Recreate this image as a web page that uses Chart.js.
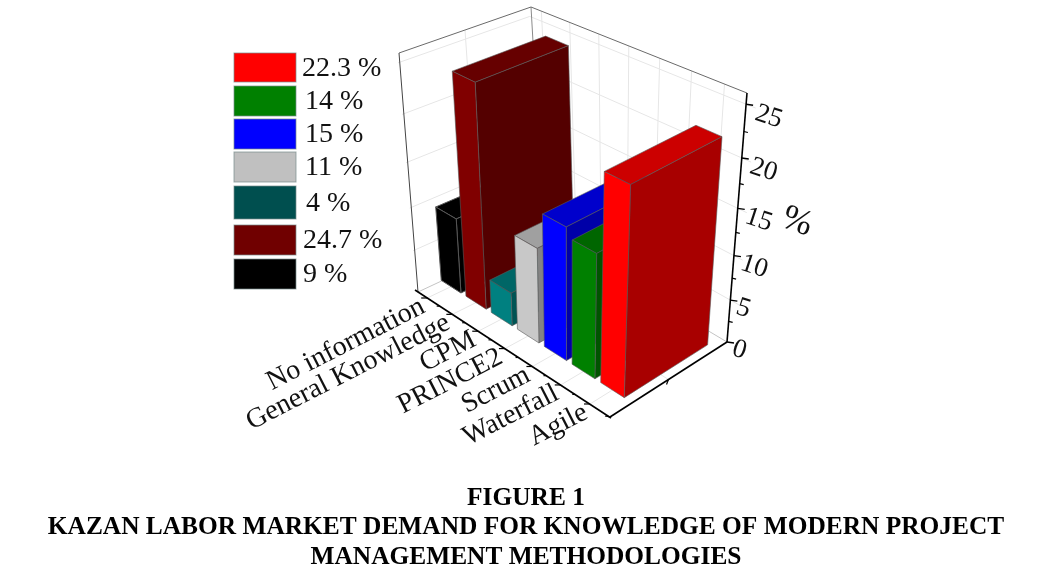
<!DOCTYPE html>
<html>
<head>
<meta charset="utf-8">
<style>html,body{margin:0;padding:0;background:#fff}canvas{display:block}</style>
<script src="https://cdn.jsdelivr.net/npm/chart.js@4"></script>
</head>
<body>
<canvas id="c" width="1047" height="573"></canvas>
<script>
const categories = ["No information","General Knowledge","CPM","PRINCE2","Scrum","Waterfall","Agile"];
const values = [9, 24.7, 4, 11, 15, 14, 22.3];
const barColors = ["#000000","#800000","#008080","#c8c8c8","#0000ff","#008000","#ff0000"];
const legendLabels = ["22.3 %","14 %","15 %","11 %","4 %","24.7 %","9 %"];
const legendColors = ["#ff0000","#008000","#0000ff","#c0c0c0","#004f4f","#700000","#000000"];
const captionLines = ["FIGURE 1","KAZAN LABOR MARKET DEMAND FOR KNOWLEDGE OF MODERN PROJECT","MANAGEMENT METHODOLOGIES"];
const valueAxisMax = 26;
const valueAxisStep = 5;

// view box of the 3D projection (t along categories, d into depth, h up)
const A=[418,292],B=[610,417],C=[727,342],D=[544,233];
const At=[399,53],Bt=[616,160],Ct=[747,93],Dt=[531,7];
const lerp=(p,q,k)=>[p[0]+(q[0]-p[0])*k,p[1]+(q[1]-p[1])*k];
const warpT=0.9, warpH=0.85;
const warp=(u,w)=>u*w/(1+(w-1)*u);
const mapT=u=>0.99*warp(u,warpT)-0.0162;
function proj(u,h,d){
  const t=mapT(u), v=warp(h,warpH);
  const f=lerp(lerp(A,B,t),lerp(D,C,t),d);
  const c=lerp(lerp(At,Bt,t),lerp(Dt,Ct,t),d);
  return lerp(f,c,v);
}
const DEPTH_FRONT=0.19, DEPTH_BACK=0.9;
const legendTops=[53,86,119,152,186,225,259];
const legendHeights=[29,30,30,30,33,30,30];
const legendTextX=[302,305,305,305,306,303,303];
const shade=(hex,k)=>{const n=parseInt(hex.slice(1),16);
  const r=(n>>16)&255,g=(n>>8)&255,b=n&255;
  return `rgb(${Math.round(r*k)},${Math.round(g*k)},${Math.round(b*k)})`;};

function poly(ctx,pts,fill,stroke){
  ctx.beginPath();pts.forEach((p,i)=>i?ctx.lineTo(p[0],p[1]):ctx.moveTo(p[0],p[1]));ctx.closePath();
  ctx.fillStyle=fill;ctx.fill();
  ctx.strokeStyle=stroke;ctx.lineWidth=1;ctx.stroke();
}
function line(ctx,p,q,color,w){
  ctx.beginPath();ctx.moveTo(p[0],p[1]);ctx.lineTo(q[0],q[1]);ctx.strokeStyle=color;ctx.lineWidth=w;ctx.stroke();
}
function rotText(ctx,txt,p,deg,font,align){
  ctx.save();ctx.translate(p[0],p[1]);ctx.rotate(deg*Math.PI/180);
  ctx.font=font;ctx.fillStyle="#111";ctx.textAlign=align;ctx.textBaseline="middle";
  ctx.fillText(txt,0,0);ctx.restore();
}
const isMajor=tk=>tk.value%valueAxisStep===0;

const box3d={
  id:"box3d",
  beforeDatasetsDraw(chart){
    const ctx=chart.ctx,x=chart.scales.x,y=chart.scales.y;
    const fx=v=>(x.getPixelForValue(v)-x.left)/x.width;
    const fy=v=>(y.bottom-y.getPixelForValue(v))/y.height;
    const wallL=-0.44, wallR=6.95;
    ctx.save();
    const grid="#e6e6e6";
    // walls and floor grid
    y.ticks.filter(isMajor).forEach(tk=>{
      if(tk.value===0)return;
      const h=fy(tk.value);
      line(ctx,proj(fx(wallL),h,0),proj(fx(wallL),h,1),grid,1);
      line(ctx,proj(fx(wallL),h,1),proj(fx(wallR),h,1),grid,1);
    });
    categories.forEach((c,i)=>{
      line(ctx,proj(fx(i),0,0),proj(fx(i),0,1),grid,1);
      line(ctx,proj(fx(i),0,1),proj(fx(i),1,1),grid,1);
    });
    line(ctx,lerp(A,D,0.5),lerp(B,C,0.5),grid,1);
    line(ctx,lerp(A,D,0.5),lerp(At,Dt,0.5),grid,1);
    // frame
    line(ctx,A,D,"#c4c4c4",1);line(ctx,D,C,"#c4c4c4",1);
    line(ctx,D,Dt,"#8a8a8a",1);
    line(ctx,At,Dt,"#6a6a6a",1);line(ctx,Dt,Ct,"#6a6a6a",1);
    line(ctx,At,A,"#444",1);
    ctx.restore();
  },
  beforeDatasetDraw(){return false;},
  afterDatasetsDraw(chart){
    const ctx=chart.ctx,x=chart.scales.x,y=chart.scales.y;
    const meta=chart.getDatasetMeta(0);
    ctx.save();ctx.lineJoin="round";
    meta.data.forEach(el=>{
      const col=el.options.backgroundColor;
      const u0=(el.x-el.width/2-x.left)/x.width,u1=(el.x+el.width/2-x.left)/x.width;
      const h=(y.bottom-el.y)/y.height;
      const edge=col==="#000000"?"#555":"rgba(90,90,90,.6)";
      const P=(u,hh,d)=>proj(u,hh,d);
      const d0=DEPTH_FRONT,d1=DEPTH_BACK;
      poly(ctx,[P(u0,h,d0),P(u1,h,d0),P(u1,h,d1),P(u0,h,d1)],shade(col,.8),edge);
      poly(ctx,[P(u1,0,d0),P(u1,0,d1),P(u1,h,d1),P(u1,h,d0)],shade(col,.66),edge);
      poly(ctx,[P(u0,0,d0),P(u1,0,d0),P(u1,h,d0),P(u0,h,d0)],col,edge);
    });
    ctx.restore();
  },
  afterDraw(chart){
    const ctx=chart.ctx,x=chart.scales.x,y=chart.scales.y;
    const fx=v=>(x.getPixelForValue(v)-x.left)/x.width;
    const fy=v=>(y.bottom-y.getPixelForValue(v))/y.height;
    ctx.save();
    // axes
    line(ctx,[A[0]-3,A[1]-2],[B[0]+1,B[1]+1],"#000",1.6);
    line(ctx,B,C,"#000",1.6);
    line(ctx,C,Ct,"#000",1.6);
    // category ticks and labels
    categories.forEach((c,i)=>{
      const p=proj(fx(i),0,0);
      line(ctx,p,[p[0]-6,p[1]],"#000",1.2);
      if(i<categories.length-1){
        const m=proj(fx(i+0.5),0,0);
        line(ctx,m,[m[0]-3,m[1]],"#000",1.2);
      }
      rotText(ctx,x.getLabelForValue(i),[p[0]-4,p[1]+7],-27,'28px "Liberation Serif"',"right");
    });
    const mid=lerp(B,C,0.5);
    line(ctx,mid,[mid[0]-2,mid[1]+5],"#000",1.2);
    line(ctx,B,[B[0]-5,B[1]-1],"#000",1.2);
    // value ticks and labels
    const at=v=>lerp(C,Ct,warp(fy(v),warpH));
    y.ticks.filter(isMajor).forEach(tk=>{
      const p=at(tk.value);
      line(ctx,p,[p[0]+7,p[1]+1],"#000",1.4);
      if(tk.value+valueAxisStep/2<valueAxisMax){
        const m=at(tk.value+valueAxisStep/2);
        line(ctx,m,[m[0]+4,m[1]+1],"#000",1.2);
      }
      rotText(ctx,tk.label,[p[0]+6+0.2*(p[0]-727),p[1]+6+tk.value*0.1],18,'27px "Liberation Serif"',"left");
    });
    rotText(ctx,y.options.title.text,[797,222],20,'36px "Liberation Serif"',"center");
    // legend
    legendLabels.forEach((t,i)=>{
      ctx.fillStyle=legendColors[i];
      ctx.fillRect(234,legendTops[i],62,legendHeights[i]);
      ctx.strokeStyle="rgba(120,140,140,.7)";ctx.lineWidth=1;
      ctx.strokeRect(234,legendTops[i],62,legendHeights[i]);
      ctx.font='28px "Liberation Serif"';ctx.fillStyle="#111";ctx.textAlign="left";ctx.textBaseline="middle";
      ctx.fillText(t,legendTextX[i],legendTops[i]+legendHeights[i]/2+1);
    });
    ctx.restore();
  }
};

new Chart(document.getElementById("c"),{
  type:"bar",
  data:{labels:categories,datasets:[{data:values,backgroundColor:barColors,barPercentage:0.8,categoryPercentage:1}]},
  options:{
    responsive:false,animation:false,devicePixelRatio:1,
    layout:{padding:{left:5,right:0,top:10,bottom:1}},
    plugins:{
      legend:{display:false},tooltip:{enabled:false},
      title:{display:true,position:"bottom",text:captionLines,color:"#000",
        font:{family:'"Liberation Serif"',size:25.4,weight:"bold",lineHeight:1.165},padding:{top:0,bottom:0}}
    },
    scales:{
      x:{grid:{display:false},border:{display:false},ticks:{display:false,autoSkip:false}},
      y:{min:0,max:valueAxisMax,grid:{display:false},border:{display:false},
         ticks:{display:false,stepSize:valueAxisStep},
         title:{display:false,text:"%"}}
    }
  },
  plugins:[box3d]
});
</script>
</body>
</html>
